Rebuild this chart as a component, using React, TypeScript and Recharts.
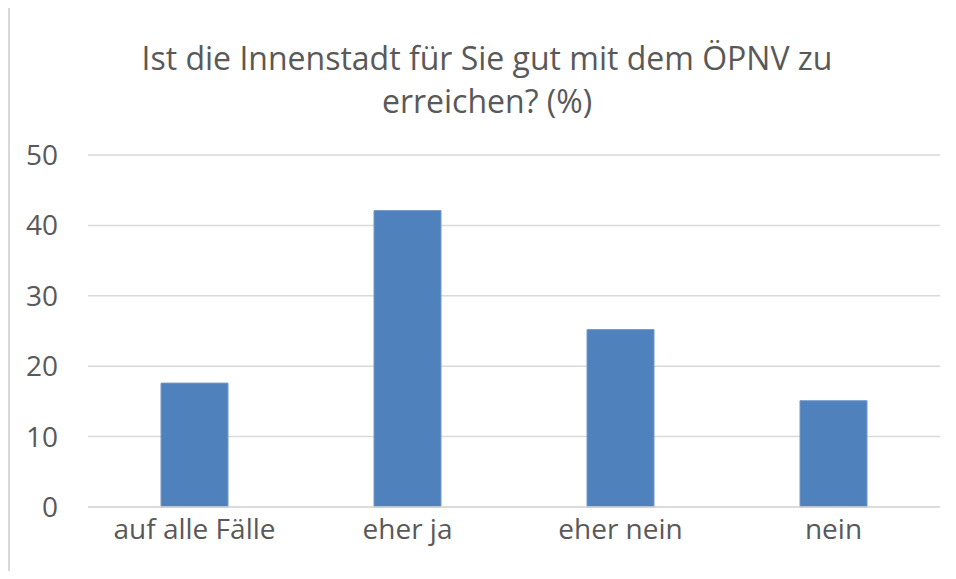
import { Bar, BarChart, CartesianGrid, XAxis, YAxis } from 'recharts'

const TITLE_LINES = ['Ist die Innenstadt für Sie gut mit dem ÖPNV zu', 'erreichen? (%)']
const CATEGORIES = ['auf alle Fälle', 'eher ja', 'eher nein', 'nein']
const VALUES = [17.6, 42.1, 25.2, 15.1]
const Y_TICKS = [0, 10, 20, 30, 40, 50]

const FONT = '"Open Sans", "Noto Sans", sans-serif'
const TEXT = '#595959'
const GRID = '#d9d9d9'
const BAR = '#4f81bd'

const data = CATEGORIES.map((name, i) => ({ name, value: VALUES[i] }))

export default function App() {
  return (
    <div
      style={{
        position: 'relative',
        width: 956,
        height: 579,
        margin: -8,
        overflow: 'hidden',
        background: '#fff',
        fontFamily: FONT,
      }}
    >
      <div
        style={{
          position: 'absolute',
          left: 8,
          top: 6,
          width: 2000,
          height: 2000,
          borderLeft: `2px solid ${GRID}`,
          borderTop: `2px solid ${GRID}`,
        }}
      />
      <svg width={956} height={140} style={{ position: 'absolute', left: 0, top: 0 }}>
        {TITLE_LINES.map((line, i) => (
          <text
            key={line}
            x={487}
            y={70 + i * 43}
            textAnchor="middle"
            fill={TEXT}
            fontSize={32}
            fontFamily={FONT}
          >
            {line}
          </text>
        ))}
      </svg>
      <div style={{ position: 'absolute', left: 0, top: 0 }}>
        <BarChart
          width={956}
          height={579}
          data={data}
          margin={{ top: 155, right: 16, bottom: 0, left: 0 }}
        >
          <CartesianGrid stroke={GRID} strokeWidth={1.5} vertical={false} />
          <XAxis
            dataKey="name"
            height={72}
            axisLine={{ stroke: GRID, strokeWidth: 1.5 }}
            tickLine={false}
            tickSize={0}
            tickMargin={12}
            tick={{ fill: TEXT, fontSize: 28, fontFamily: FONT }}
            interval={0}
          />
          <YAxis
            domain={[0, 50]}
            ticks={Y_TICKS}
            width={88}
            axisLine={false}
            tickLine={false}
            tickSize={0}
            tickMargin={30}
            tick={{ fill: TEXT, fontSize: 28, fontFamily: FONT }}
          />
          <Bar
            dataKey="value"
            fill={BAR}
            stroke="#7598cb"
            strokeWidth={1}
            barSize={67}
            isAnimationActive={false}
          />
        </BarChart>
      </div>
    </div>
  )
}
